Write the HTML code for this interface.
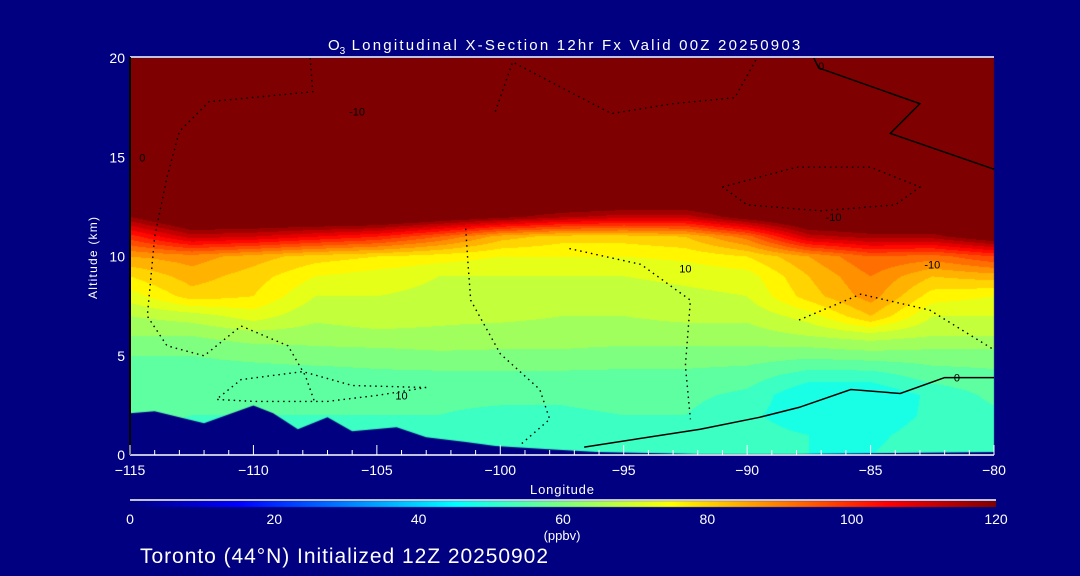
<!DOCTYPE html>
<html><head><meta charset="utf-8">
<style>
html,body{margin:0;padding:0;background:#000080;}
#wrap{position:relative;width:1080px;height:576px;background:#000080;overflow:hidden;font-family:"Liberation Sans",sans-serif;}
canvas,svg{position:absolute;left:0;top:0;}
</style></head>
<body>
<div id="wrap">
<canvas id="cv" width="1080" height="576"></canvas>
<svg id="sv" width="1080" height="576"></svg>
</div>
<script>
const lons=[-115,-112.5,-110,-107.5,-105,-102.5,-100,-97.5,-95,-92.5,-90,-87.5,-85,-82.5,-80];
const alts=[0,1,2,3,4,5,6,7,8,9,10,11,12,13,14,15,16,17,18,19,20];
const row0=[52,52,52,52,52,52,50,50,52,52,52,50,50,52,52];
const row1=[53,53,53,53,53,52,52,52,53,53,52,50,49,52,53];
const row2=[55,54,54,54,54,54,53,53,54,54,51,47,47,51,53];
const row3=[56,55,55,55,55,55,55,55,56,55,53,46,46,51,55];
const row4=[57,56,56,56,57,57,57,57,57,57,56,52,52,56,57];
const row5=[58,58,59,60,60,61,61,61,60,60,60,59,60,60,60];
const row6=[62,62,64,64,65,65,64,64,64,64,64,66,68,66,66];
const row7=[66,68,72,67,68,67,67,66,66,67,67,72,82,70,70];
const row8=[72,80,78,70,70,69,68,68,68,69,70,80,88,76,74];
const row9=[78,84,80,74,72,70,70,70,70,71,72,82,90,82,84];
const row10=[86,88,84,80,78,76,74,74,74,75,78,86,94,92,98];
const row11=[100,112,110,106,102,94,84,80,80,82,92,112,116,116,124];
const row12=[118,130,130,130,130,125,120,115,112,112,122,130,130,130,130];
const rowTop=[130,130,130,130,130,130,130,130,130,130,130,130,130,130,130];
const grid=[row0,row1,row2,row3,row4,row5,row6,row7,row8,row9,row10,row11,row12,rowTop,rowTop,rowTop,rowTop,rowTop,rowTop,rowTop,rowTop];
const terrLon=[-115,-114,-112,-110,-109.2,-108.2,-107,-106,-104.2,-103,-101.4,-100.2,-98.2,-96.1,-92,-88,-84,-80];
const terrAlt=[2.1,2.2,1.6,2.5,2.1,1.3,1.9,1.2,1.4,0.9,0.65,0.45,0.3,0.15,0.05,0.05,0.1,0.15];
const xTicks=[-115,-110,-105,-100,-95,-90,-85,-80];
const yTicks=[0,5,10,15,20];
const cbTicks=[0,20,40,60,80,100,120];
const solidA_lon=[-87.3,-87.1,-83.0,-84.2,-80];
const solidA_alt=[20,19.5,17.7,16.2,14.4];
const solidB_lon=[-96.6,-91.9,-89.5,-87.9,-85.8,-83.8,-82,-80];
const solidB_alt=[0.4,1.3,1.9,2.4,3.3,3.1,3.9,3.9];
const dot1_lon=[-107.7,-107.6,-111.8,-113,-113.5,-114,-114.3,-113.5,-112,-110.5,-108.6,-107.9,-107.5];
const dot1_alt=[20,18.3,17.8,16.3,14,11,7,5.5,5,6.5,5.5,4,2.6];
const dot2_lon=[-101.4,-101.3,-101.2,-100,-98.4,-98,-99.2];
const dot2_alt=[11.4,9.5,7.8,5.1,3.3,1.8,0.5];
const dot3_lon=[-97.2,-94.3,-92.3,-92.5,-92.3];
const dot3_alt=[10.4,9.6,7.8,4.5,1.8];
const dot4_lon=[-87.9,-85.4,-82.6,-80];
const dot4_alt=[6.8,8.1,7.3,5.3];
const dot5_lon=[-91,-88,-85,-83,-84,-87,-90,-91];
const dot5_alt=[13.5,14.5,14.5,13.5,12.6,12.3,12.6,13.5];
const dot6_lon=[-103,-106,-108,-110.5,-111.5,-110,-107,-105,-103];
const dot6_alt=[3.4,3.5,4.2,3.8,2.8,2.7,2.7,3.0,3.4];
const dot7_lon=[-100.2,-99.5,-95.5,-93,-90.5,-89.6];
const dot7_alt=[17.3,19.8,17.2,17.7,18,20];

const X0=130,X1=994,Y0=455,Y1=58;
const xs=l=>X0+(l+115)/35*(X1-X0);
const ys=a=>Y0-a/20*(Y0-Y1);
function jet(v){let t=Math.max(0,Math.min(1,v/120));
 const r=Math.max(0,Math.min(1,1.5-Math.abs(4*t-3))),g=Math.max(0,Math.min(1,1.5-Math.abs(4*t-2))),b=Math.max(0,Math.min(1,1.5-Math.abs(4*t-1)));
 return [r*255|0,g*255|0,b*255|0];}
const cv=document.getElementById('cv'),ctx=cv.getContext('2d');
const img=ctx.createImageData(X1-X0,Y0-Y1);
for(let py=0;py<Y0-Y1;py++){
 const aa=20-(py+0.5)/(Y0-Y1)*20;
 let j=Math.min(alts.length-2,Math.floor(aa)),fa=aa-alts[j];
 for(let px=0;px<X1-X0;px++){const l=-115+(px+0.5)/(X1-X0)*35;
  let i=Math.min(lons.length-2,Math.floor((l+115)/2.5)),fl=(l-lons[i])/2.5;
  const v=(grid[j][i]*(1-fl)+grid[j][i+1]*fl)*(1-fa)+(grid[j+1][i]*(1-fl)+grid[j+1][i+1]*fl)*fa;
  const q=Math.round(v/4)*4; const c=jet(q);const k=(py*(X1-X0)+px)*4;
  img.data[k]=c[0];img.data[k+1]=c[1];img.data[k+2]=c[2];img.data[k+3]=255;}}
ctx.putImageData(img,X0,Y1);
ctx.fillStyle='#000080';ctx.beginPath();ctx.moveTo(xs(-115),Y0);
terrLon.forEach((l,i)=>ctx.lineTo(xs(l),ys(terrAlt[i])));ctx.lineTo(X1,Y0);ctx.closePath();ctx.fill();
const cg=ctx.createLinearGradient(130,0,996,0);
for(let s=0;s<=24;s++){const c=jet(s*5);cg.addColorStop(s/24,`rgb(${c})`);}
ctx.fillStyle=cg;ctx.fillRect(130,501,866,6);

const NS='http://www.w3.org/2000/svg',sv=document.getElementById('sv');
function mk(tag,attrs,name,txt){const e=document.createElementNS(NS,tag);for(const k in attrs)e.setAttribute(k,attrs[k]);
 
 
 if(txt!==undefined)e.textContent=txt;sv.appendChild(e);return e;}
function poly(lo,al,name,dash){const p=lo.map((l,i)=>xs(l).toFixed(1)+','+ys(al[i]).toFixed(1)).join(' ');
 mk('polyline',{points:p,fill:'none',stroke:'#000','stroke-width':dash?1.4:1.5,'stroke-dasharray':dash?'1.5 4':'none'},name);}
poly(solidA_lon,solidA_alt,'contour-zero-upper',false);
poly(solidB_lon,solidB_alt,'contour-zero-lower',false);
poly(dot1_lon,dot1_alt,'contour-neg10-west',true);
poly(dot2_lon,dot2_alt,'contour-10-center',true);
poly(dot3_lon,dot3_alt,'contour-10-east',true);
poly(dot4_lon,dot4_alt,'contour-10-right',true);
poly(dot5_lon,dot5_alt,'contour-neg10-loop',true);
poly(dot6_lon,dot6_alt,'contour-10-low',true);
poly(dot7_lon,dot7_alt,'contour-neg10-top',true);
const lbl=[[-105.8,17.3,'-10'],[-92.5,9.4,'10'],[-86.5,12,'-10'],[-82.5,9.6,'-10'],[-104,3,'10'],[-114.5,15,'0'],[-81.5,3.9,'0'],[-87,19.6,'0']];
lbl.forEach(d=>mk('text',{x:xs(d[0]),y:ys(d[1])+4,fill:'#000','font-size':11,'text-anchor':'middle'},'contour-label',d[2]));
mk('line',{x1:X0,y1:57,x2:X1,y2:57,stroke:'#fff','stroke-width':1.5},'plot-top-border');
mk('line',{x1:X0,y1:Y0,x2:X1,y2:Y0,stroke:'#fff','stroke-width':1.5},'x-axis-line');
mk('line',{x1:X0,y1:57,x2:X0,y2:Y0,stroke:'#000','stroke-width':2},'y-axis-line');
for(let l=-115;l<=-80;l++){const maj=xTicks.includes(l);
 mk('line',{x1:xs(l),y1:Y0,x2:xs(l),y2:Y0-(maj?10:5),stroke:'#fff','stroke-width':1},'x-tick');}
xTicks.forEach(l=>mk('text',{x:xs(l),y:475,fill:'#fff','font-size':14,'text-anchor':'middle'},'x-tick-label',(l<0?'\u2212':'')+Math.abs(l)));
yTicks.forEach(a=>mk('text',{x:125,y:ys(a)+5,fill:'#fff','font-size':14,'text-anchor':'end'},'y-tick-label',String(a)));
mk('text',{x:562,y:494,fill:'#fff','font-size':13,'text-anchor':'middle',textLength:64},'x-axis-title','Longitude');
mk('text',{x:97,y:258,fill:'#fff','font-size':12,'text-anchor':'middle',transform:'rotate(-90 97 258)',textLength:82},'y-axis-title','Altitude (km)');
const t=mk('text',{x:328,y:50,fill:'#fff','font-size':15},'chart-title');
t.innerHTML='O<tspan font-size="10" dy="4">3</tspan><tspan dy="-4" textLength="455" lengthAdjust="spacing"> Longitudinal X-Section 12hr  Fx Valid 00Z 20250903</tspan>';
mk('line',{x1:130,y1:500,x2:996,y2:500,stroke:'#fff','stroke-width':1.5},'colorbar-line');
cbTicks.forEach(v=>mk('text',{x:130+v/120*866,y:524,fill:'#fff','font-size':14,'text-anchor':'middle'},'colorbar-tick-label',String(v)));
mk('text',{x:562,y:540,fill:'#fff','font-size':13,'text-anchor':'middle'},'colorbar-units','(ppbv)');
mk('text',{x:140,y:563,fill:'#fff','font-size':21,textLength:408,lengthAdjust:'spacing'},'footer-text','Toronto (44°N) Initialized 12Z 20250902');
</script>
</body></html>
